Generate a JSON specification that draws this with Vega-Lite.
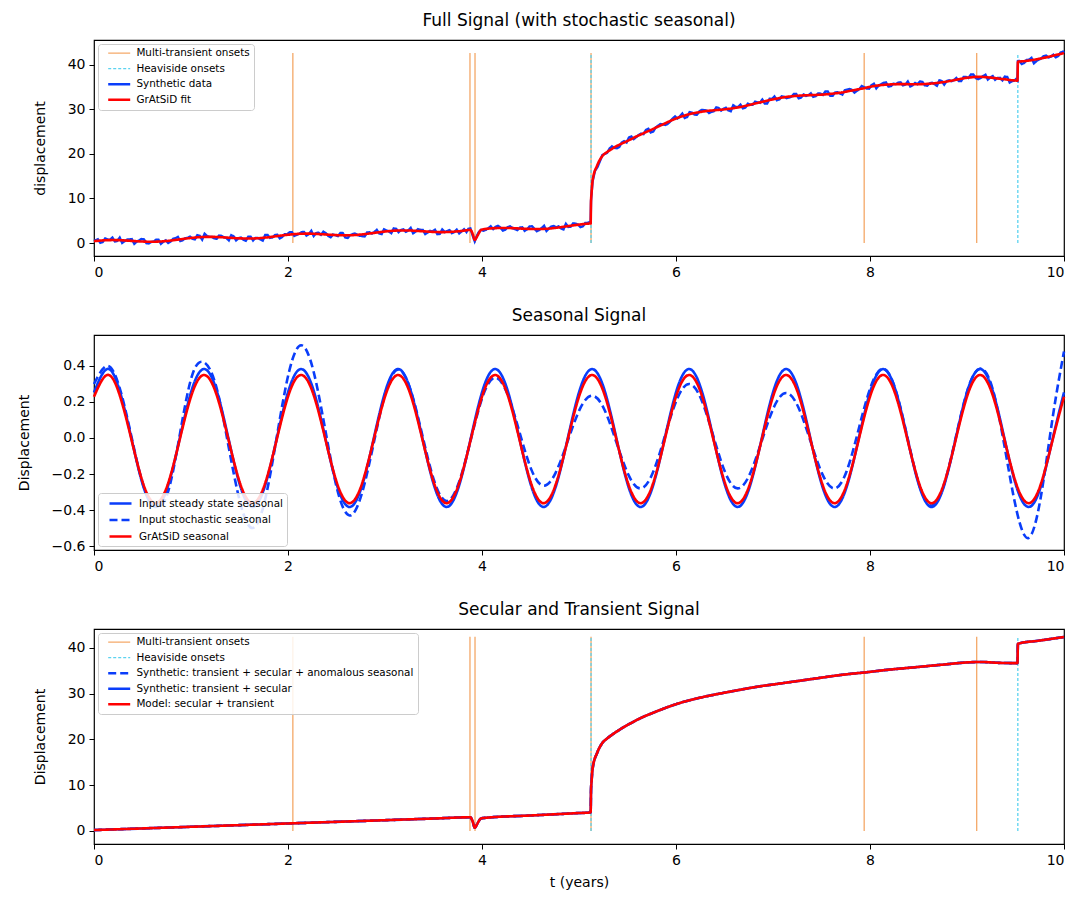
{
"$schema": "https://vega.github.io/schema/vega-lite/v6.json",
"padding": {"left": 16, "top": 11, "right": 10, "bottom": 8},
"spacing": 26,
"resolve": {"scale": {"color": "independent", "strokeDash": "independent"}},
"config": {
  "font": "DejaVu Sans",
  "view": {"stroke": "black", "strokeWidth": 1.2},
  "axis": {"grid": false, "domain": false, "tickColor": "black", "tickSize": 5, "tickWidth": 1, "labelFontSize": 14, "labelColor": "black", "labelFont": "DejaVu Sans", "titleFont": "DejaVu Sans", "titleFontSize": 14, "titleFontWeight": "normal", "titleColor": "black", "labelPadding": 4, "titlePadding": 20},
  "title": {"fontSize": 17, "fontWeight": "normal", "font": "DejaVu Sans", "color": "black", "offset": 10, "frame": "group"},
  "legend": {"title": null, "offset": 4, "padding": 4, "strokeColor": "#cccccc", "fillColor": "rgba(255,255,255,0.85)", "cornerRadius": 3, "labelFontSize": 10.4, "labelFont": "DejaVu Sans", "labelColor": "black", "labelLimit": 400, "symbolType": "M-2.2,0H2.2", "symbolSize": 100, "symbolOffset": 12, "labelOffset": 12, "rowPadding": 4.5}
},
"datasets": {
  "onsets": [
    {"kind": "Multi-transient onsets", "t": 2.05},
    {"kind": "Multi-transient onsets", "t": 3.876},
    {"kind": "Multi-transient onsets", "t": 3.928},
    {"kind": "Multi-transient onsets", "t": 5.124},
    {"kind": "Multi-transient onsets", "t": 7.94},
    {"kind": "Multi-transient onsets", "t": 9.1},
    {"kind": "Heaviside onsets", "t": 5.124},
    {"kind": "Heaviside onsets", "t": 9.524}
  ],
  "obs": [
    {"t":0,"y":0.45},{"t":0.04,"y":0.85},{"t":0.09,"y":0.24},{"t":0.14,"y":0.79},{"t":0.19,"y":1.21},{"t":0.24,"y":0.49},{"t":0.29,"y":0.04},{"t":0.34,"y":0.77},{"t":0.39,"y":0.88},{"t":0.44,"y":0.3},{"t":0.49,"y":0.92},{"t":0.54,"y":-0.03},{"t":0.59,"y":0.25},{"t":0.64,"y":0.77},{"t":0.69,"y":-0.17},{"t":0.74,"y":0.62},{"t":0.79,"y":0.34},{"t":0.84,"y":1.08},{"t":0.89,"y":0.44},{"t":0.94,"y":1.1},{"t":0.99,"y":1.44},
    {"t":1.04,"y":0.82},{"t":1.09,"y":1.62},{"t":1.14,"y":2.08},{"t":1.19,"y":1.39},{"t":1.24,"y":1.07},{"t":1.29,"y":1.7},{"t":1.34,"y":1.31},{"t":1.39,"y":0.6},{"t":1.44,"y":1.5},{"t":1.49,"y":1.1},{"t":1.54,"y":0.74},{"t":1.59,"y":1.41},{"t":1.64,"y":0.58},{"t":1.69,"y":1.14},{"t":1.74,"y":0.55},{"t":1.79,"y":1.8},{"t":1.84,"y":1.27},{"t":1.89,"y":1.86},{"t":1.94,"y":1.35},{"t":1.99,"y":1.93},
    {"t":2.04,"y":2.46},{"t":2.09,"y":1.86},{"t":2.14,"y":2.46},{"t":2.19,"y":1.67},{"t":2.24,"y":2.73},{"t":2.29,"y":2.25},{"t":2.34,"y":1.84},{"t":2.39,"y":2.22},{"t":2.44,"y":1.32},{"t":2.49,"y":1.74},{"t":2.54,"y":2.28},{"t":2.59,"y":1.26},{"t":2.64,"y":1.77},{"t":2.69,"y":2.13},{"t":2.74,"y":1.63},{"t":2.79,"y":1.46},{"t":2.84,"y":2.41},{"t":2.89,"y":2.48},{"t":2.94,"y":2.13},{"t":2.99,"y":3.08},
    {"t":3.04,"y":2.6},{"t":3.09,"y":3.29},{"t":3.14,"y":2.44},{"t":3.19,"y":3.06},{"t":3.24,"y":2.84},{"t":3.29,"y":2.19},{"t":3.34,"y":3.12},{"t":3.39,"y":2.94},{"t":3.44,"y":2.37},{"t":3.49,"y":2.61},{"t":3.54,"y":1.97},{"t":3.59,"y":3.05},{"t":3.64,"y":2.67},{"t":3.69,"y":2.22},{"t":3.74,"y":3.01},{"t":3.79,"y":2.62},{"t":3.84,"y":2.46},{"t":3.88,"y":3.3},{"t":3.905,"y":1.6},{"t":3.925,"y":0.4},{"t":3.945,"y":1.5},{"t":3.965,"y":2.4},{"t":3.99,"y":2.95},
    {"t":4.04,"y":2.96},{"t":4.09,"y":3.76},{"t":4.14,"y":3.63},{"t":4.19,"y":3.47},{"t":4.24,"y":2.97},{"t":4.29,"y":3.75},{"t":4.34,"y":3.11},{"t":4.39,"y":3.46},{"t":4.44,"y":2.74},{"t":4.49,"y":3.72},{"t":4.54,"y":3.21},{"t":4.59,"y":2.93},{"t":4.64,"y":3.87},{"t":4.69,"y":3.23},{"t":4.74,"y":3.82},{"t":4.79,"y":3.74},{"t":4.84,"y":3.06},{"t":4.89,"y":3.6},{"t":4.94,"y":4.43},{"t":4.99,"y":4.14},
    {"t":5.04,"y":3.75},{"t":5.09,"y":4.54},{"t":5.12,"y":4.6},{"t":5.124,"y":9.5},{"t":5.13,"y":11.2},{"t":5.14,"y":13.84},{"t":5.19,"y":17.02},{"t":5.24,"y":19.69},{"t":5.29,"y":20.24},{"t":5.34,"y":21.67},{"t":5.39,"y":21.25},{"t":5.44,"y":22.51},{"t":5.49,"y":22.54},{"t":5.54,"y":23.87},{"t":5.59,"y":23.73},{"t":5.64,"y":24.52},{"t":5.69,"y":25.33},{"t":5.74,"y":24.77},{"t":5.79,"y":25.89},{"t":5.84,"y":26.66},{"t":5.89,"y":26.45},{"t":5.94,"y":27.24},{"t":5.99,"y":28.38},
    {"t":6.04,"y":28.39},{"t":6.09,"y":28.04},{"t":6.14,"y":29.35},{"t":6.19,"y":28.79},{"t":6.24,"y":29.49},{"t":6.29,"y":29.78},{"t":6.34,"y":29.14},{"t":6.39,"y":29.55},{"t":6.44,"y":30.26},{"t":6.49,"y":30.09},{"t":6.54,"y":29.72},{"t":6.59,"y":30.88},{"t":6.64,"y":30.47},{"t":6.69,"y":30.18},{"t":6.74,"y":31.22},{"t":6.79,"y":30.99},{"t":6.84,"y":31.51},{"t":6.89,"y":32.15},{"t":6.94,"y":31.28},{"t":6.99,"y":32.3},
    {"t":7.04,"y":32.0},{"t":7.09,"y":32.89},{"t":7.14,"y":32.45},{"t":7.19,"y":32.79},{"t":7.24,"y":33.4},{"t":7.29,"y":32.6},{"t":7.34,"y":32.98},{"t":7.39,"y":33.55},{"t":7.44,"y":32.91},{"t":7.49,"y":33.49},{"t":7.54,"y":33.97},{"t":7.59,"y":32.98},{"t":7.64,"y":33.72},{"t":7.69,"y":33.53},{"t":7.74,"y":34.22},{"t":7.79,"y":34.54},{"t":7.84,"y":33.71},{"t":7.89,"y":34.5},{"t":7.94,"y":34.92},{"t":7.99,"y":34.58},
    {"t":8.04,"y":35.71},{"t":8.09,"y":35.27},{"t":8.14,"y":35.89},{"t":8.19,"y":35.07},{"t":8.24,"y":35.71},{"t":8.29,"y":35.93},{"t":8.34,"y":35.32},{"t":8.39,"y":36.2},{"t":8.44,"y":35.38},{"t":8.49,"y":35.58},{"t":8.54,"y":36.1},{"t":8.59,"y":35.24},{"t":8.64,"y":35.93},{"t":8.69,"y":35.24},{"t":8.74,"y":36.3},{"t":8.79,"y":36.28},{"t":8.84,"y":36.28},{"t":8.89,"y":37.0},{"t":8.94,"y":36.32},{"t":8.99,"y":37.23},
    {"t":9.04,"y":37.76},{"t":9.09,"y":36.97},{"t":9.14,"y":36.99},{"t":9.19,"y":37.72},{"t":9.24,"y":37.11},{"t":9.29,"y":36.58},{"t":9.34,"y":37.02},{"t":9.39,"y":37.3},{"t":9.44,"y":35.98},{"t":9.49,"y":36.42},{"t":9.52,"y":36.44},{"t":9.525,"y":40.78},{"t":9.54,"y":40.8},{"t":9.59,"y":40.37},{"t":9.64,"y":41.09},{"t":9.69,"y":40.27},{"t":9.74,"y":41.1},{"t":9.79,"y":41.87},{"t":9.84,"y":41.58},{"t":9.89,"y":42.2},{"t":9.94,"y":41.9},{"t":9.99,"y":42.88},{"t":10,"y":42.6},
    {"t":0.065,"y":0.06},{"t":0.115,"y":1.03},{"t":0.165,"y":0.76},{"t":0.215,"y":0.37},{"t":0.265,"y":1.24},{"t":0.315,"y":0.39},{"t":0.365,"y":0.82},{"t":0.415,"y":-0.16},{"t":0.465,"y":0.58},{"t":0.515,"y":0.83},{"t":0.565,"y":-0.1},{"t":0.615,"y":0.3},{"t":0.665,"y":0.74},{"t":0.715,"y":0.31},{"t":0.765,"y":0.01},{"t":0.815,"y":0.93},{"t":0.865,"y":1.37},{"t":0.915,"y":0.62},{"t":0.965,"y":1.16},{"t":1.015,"y":0.98},
    {"t":1.065,"y":1.78},{"t":1.115,"y":0.75},{"t":1.165,"y":1.58},{"t":1.215,"y":1.39},{"t":1.265,"y":0.96},{"t":1.315,"y":1.6},{"t":1.365,"y":1.14},{"t":1.415,"y":1.77},{"t":1.465,"y":0.6},{"t":1.515,"y":1.25},{"t":1.565,"y":0.52},{"t":1.615,"y":1.42},{"t":1.665,"y":1.16},{"t":1.715,"y":0.83},{"t":1.765,"y":1.83},{"t":1.815,"y":1.15},{"t":1.865,"y":1.79},{"t":1.915,"y":1.04},{"t":1.965,"y":1.98},{"t":2.015,"y":2.4},
    {"t":2.065,"y":1.6},{"t":2.115,"y":2.07},{"t":2.165,"y":2.5},{"t":2.215,"y":2.01},{"t":2.265,"y":1.58},{"t":2.315,"y":2.32},{"t":2.365,"y":2.56},{"t":2.415,"y":1.59},{"t":2.465,"y":1.92},{"t":2.515,"y":1.57},{"t":2.565,"y":2.24},{"t":2.615,"y":1.14},{"t":2.665,"y":1.98},{"t":2.715,"y":1.85},{"t":2.765,"y":1.55},{"t":2.815,"y":2.37},{"t":2.865,"y":2.11},{"t":2.915,"y":2.96},{"t":2.965,"y":2.0},{"t":3.015,"y":2.82},
    {"t":3.065,"y":2.22},{"t":3.115,"y":3.19},{"t":3.165,"y":2.92},{"t":3.215,"y":2.53},{"t":3.265,"y":3.4},{"t":3.315,"y":2.55},{"t":3.365,"y":2.98},{"t":3.415,"y":2.01},{"t":3.465,"y":2.74},{"t":3.515,"y":2.99},{"t":3.565,"y":2.06},{"t":3.615,"y":2.46},{"t":3.665,"y":2.9},{"t":3.715,"y":2.47},{"t":3.765,"y":2.17},{"t":3.815,"y":3.09},{"t":3.86,"y":3.2},
    {"t":4.015,"y":2.77},{"t":4.065,"y":3.33},{"t":4.115,"y":3.12},{"t":4.165,"y":3.87},{"t":4.215,"y":2.79},{"t":4.265,"y":3.58},{"t":4.315,"y":3.34},{"t":4.365,"y":2.89},{"t":4.415,"y":3.54},{"t":4.465,"y":3.09},{"t":4.515,"y":3.76},{"t":4.565,"y":2.65},{"t":4.615,"y":3.37},{"t":4.665,"y":2.72},{"t":4.715,"y":3.71},{"t":4.765,"y":3.53},{"t":4.815,"y":3.27},{"t":4.865,"y":4.32},{"t":4.915,"y":3.68},{"t":4.965,"y":4.34},{"t":5.015,"y":3.58},{"t":5.065,"y":4.5},{"t":5.105,"y":4.68},
    {"t":5.165,"y":16.2},{"t":5.215,"y":18.3},{"t":5.265,"y":19.95},{"t":5.315,"y":21.16},{"t":5.365,"y":21.33},{"t":5.415,"y":21.52},{"t":5.465,"y":22.84},{"t":5.515,"y":23.66},{"t":5.565,"y":23.3},{"t":5.615,"y":24.21},{"t":5.665,"y":24.41},{"t":5.715,"y":25.6},{"t":5.765,"y":24.98},{"t":5.815,"y":26.29},{"t":5.865,"y":26.6},{"t":5.915,"y":26.71},{"t":5.965,"y":27.89},{"t":6.015,"y":27.92},{"t":6.065,"y":29.01},{"t":6.115,"y":28.24},{"t":6.165,"y":29.22},
    {"t":6.215,"y":28.73},{"t":6.265,"y":29.82},{"t":6.315,"y":29.69},{"t":6.365,"y":29.41},{"t":6.415,"y":30.4},{"t":6.465,"y":29.69},{"t":6.515,"y":30.31},{"t":6.565,"y":29.55},{"t":6.615,"y":30.51},{"t":6.665,"y":31.01},{"t":6.715,"y":30.35},{"t":6.765,"y":31.01},{"t":6.815,"y":31.67},{"t":6.865,"y":31.42},{"t":6.915,"y":31.28},{"t":6.965,"y":32.34},{"t":7.015,"y":32.87},{"t":7.065,"y":32.18},{"t":7.115,"y":32.77},{"t":7.165,"y":32.62},
    {"t":7.215,"y":33.43},{"t":7.265,"y":32.42},{"t":7.315,"y":33.29},{"t":7.365,"y":33.13},{"t":7.415,"y":32.77},{"t":7.465,"y":33.52},{"t":7.515,"y":33.18},{"t":7.565,"y":33.97},{"t":7.615,"y":32.99},{"t":7.665,"y":33.81},{"t":7.715,"y":33.27},{"t":7.765,"y":34.38},{"t":7.815,"y":34.29},{"t":7.865,"y":34.1},{"t":7.915,"y":35.21},{"t":7.965,"y":34.64},{"t":8.015,"y":35.37},{"t":8.065,"y":34.66},{"t":8.115,"y":35.59},{"t":8.165,"y":35.99},
    {"t":8.215,"y":35.16},{"t":8.265,"y":35.6},{"t":8.315,"y":36.01},{"t":8.365,"y":35.51},{"t":8.415,"y":35.1},{"t":8.465,"y":35.89},{"t":8.515,"y":36.21},{"t":8.565,"y":35.35},{"t":8.615,"y":35.81},{"t":8.665,"y":35.61},{"t":8.715,"y":36.45},{"t":8.765,"y":35.51},{"t":8.815,"y":36.49},{"t":8.865,"y":36.5},{"t":8.915,"y":36.31},{"t":8.965,"y":37.21},{"t":9.015,"y":36.97},{"t":9.065,"y":37.78},{"t":9.115,"y":36.74},{"t":9.165,"y":37.42},
    {"t":9.215,"y":36.63},{"t":9.265,"y":37.42},{"t":9.315,"y":36.99},{"t":9.365,"y":36.46},{"t":9.415,"y":37.22},{"t":9.465,"y":36.29},{"t":9.505,"y":36.72},{"t":9.565,"y":40.12},{"t":9.615,"y":41.04},{"t":9.665,"y":41.49},{"t":9.715,"y":40.77},{"t":9.765,"y":41.38},{"t":9.815,"y":42.02},{"t":9.865,"y":41.77},{"t":9.915,"y":41.63},{"t":9.965,"y":42.69}
  ],
  "fit": [
    {"t":0,"f":0.42},{"t":0.04,"f":0.51},{"t":0.09,"f":0.6},{"t":0.14,"f":0.65},{"t":0.19,"f":0.67},{"t":0.24,"f":0.66},{"t":0.29,"f":0.62},{"t":0.34,"f":0.55},{"t":0.39,"f":0.48},{"t":0.44,"f":0.41},{"t":0.49,"f":0.35},{"t":0.54,"f":0.31},{"t":0.59,"f":0.29},{"t":0.64,"f":0.31},{"t":0.69,"f":0.36},{"t":0.74,"f":0.45},{"t":0.79,"f":0.56},{"t":0.84,"f":0.7},{"t":0.89,"f":0.84},{"t":0.94,"f":0.99},{"t":0.99,"f":1.12},
    {"t":1.04,"f":1.23},{"t":1.09,"f":1.32},{"t":1.14,"f":1.37},{"t":1.19,"f":1.39},{"t":1.24,"f":1.38},{"t":1.29,"f":1.33},{"t":1.34,"f":1.27},{"t":1.39,"f":1.2},{"t":1.44,"f":1.13},{"t":1.49,"f":1.07},{"t":1.54,"f":1.03},{"t":1.59,"f":1.01},{"t":1.64,"f":1.03},{"t":1.69,"f":1.08},{"t":1.74,"f":1.17},{"t":1.79,"f":1.28},{"t":1.84,"f":1.42},{"t":1.89,"f":1.56},{"t":1.94,"f":1.71},{"t":1.99,"f":1.84},
    {"t":2.04,"f":1.95},{"t":2.09,"f":2.04},{"t":2.14,"f":2.09},{"t":2.19,"f":2.11},{"t":2.24,"f":2.1},{"t":2.29,"f":2.05},{"t":2.34,"f":1.99},{"t":2.39,"f":1.92},{"t":2.44,"f":1.85},{"t":2.49,"f":1.79},{"t":2.54,"f":1.75},{"t":2.59,"f":1.73},{"t":2.64,"f":1.75},{"t":2.69,"f":1.8},{"t":2.74,"f":1.89},{"t":2.79,"f":2.0},{"t":2.84,"f":2.14},{"t":2.89,"f":2.28},{"t":2.94,"f":2.43},{"t":2.99,"f":2.56},
    {"t":3.04,"f":2.67},{"t":3.09,"f":2.76},{"t":3.14,"f":2.81},{"t":3.19,"f":2.83},{"t":3.24,"f":2.82},{"t":3.29,"f":2.78},{"t":3.34,"f":2.71},{"t":3.39,"f":2.64},{"t":3.44,"f":2.57},{"t":3.49,"f":2.51},{"t":3.54,"f":2.47},{"t":3.59,"f":2.45},{"t":3.64,"f":2.47},{"t":3.69,"f":2.52},{"t":3.74,"f":2.61},{"t":3.79,"f":2.72},{"t":3.84,"f":2.86},{"t":3.88,"f":2.97},{"t":3.905,"f":2.0},{"t":3.925,"f":0.7},{"t":3.945,"f":1.3},{"t":3.965,"f":2.1},{"t":3.99,"f":2.96},
    {"t":4.04,"f":3.17},{"t":4.09,"f":3.28},{"t":4.14,"f":3.35},{"t":4.19,"f":3.38},{"t":4.24,"f":3.39},{"t":4.29,"f":3.36},{"t":4.34,"f":3.32},{"t":4.39,"f":3.26},{"t":4.44,"f":3.21},{"t":4.49,"f":3.17},{"t":4.54,"f":3.14},{"t":4.59,"f":3.15},{"t":4.64,"f":3.18},{"t":4.69,"f":3.25},{"t":4.74,"f":3.36},{"t":4.79,"f":3.49},{"t":4.84,"f":3.64},{"t":4.89,"f":3.8},{"t":4.94,"f":3.96},{"t":4.99,"f":4.11},
    {"t":5.04,"f":4.24},{"t":5.09,"f":4.35},{"t":5.12,"f":4.4},{"t":5.124,"f":9.3},{"t":5.13,"f":11.35},{"t":5.14,"f":13.95},{"t":5.19,"f":17.53},{"t":5.24,"f":19.48},{"t":5.29,"f":20.41},{"t":5.34,"f":21.11},{"t":5.39,"f":21.75},{"t":5.44,"f":22.29},{"t":5.49,"f":22.79},{"t":5.54,"f":23.32},{"t":5.59,"f":23.87},{"t":5.64,"f":24.35},{"t":5.69,"f":24.87},{"t":5.74,"f":25.32},{"t":5.79,"f":25.84},{"t":5.84,"f":26.34},{"t":5.89,"f":26.85},{"t":5.94,"f":27.36},{"t":5.99,"f":27.81},
    {"t":6.04,"f":28.23},{"t":6.09,"f":28.58},{"t":6.14,"f":28.9},{"t":6.19,"f":29.13},{"t":6.24,"f":29.33},{"t":6.29,"f":29.51},{"t":6.34,"f":29.66},{"t":6.39,"f":29.75},{"t":6.44,"f":29.84},{"t":6.49,"f":29.94},{"t":6.54,"f":30.07},{"t":6.59,"f":30.22},{"t":6.64,"f":30.4},{"t":6.69,"f":30.62},{"t":6.74,"f":30.87},{"t":6.79,"f":31.14},{"t":6.84,"f":31.39},{"t":6.89,"f":31.65},{"t":6.94,"f":31.91},{"t":6.99,"f":32.16},
    {"t":7.04,"f":32.38},{"t":7.09,"f":32.58},{"t":7.14,"f":32.75},{"t":7.19,"f":32.88},{"t":7.24,"f":32.98},{"t":7.29,"f":33.06},{"t":7.34,"f":33.11},{"t":7.39,"f":33.15},{"t":7.44,"f":33.19},{"t":7.49,"f":33.24},{"t":7.54,"f":33.32},{"t":7.59,"f":33.42},{"t":7.64,"f":33.55},{"t":7.69,"f":33.67},{"t":7.74,"f":33.87},{"t":7.79,"f":34.09},{"t":7.84,"f":34.29},{"t":7.89,"f":34.5},{"t":7.94,"f":34.71},{"t":7.99,"f":34.96},
    {"t":8.04,"f":35.18},{"t":8.09,"f":35.33},{"t":8.14,"f":35.45},{"t":8.19,"f":35.53},{"t":8.24,"f":35.58},{"t":8.29,"f":35.61},{"t":8.34,"f":35.61},{"t":8.39,"f":35.6},{"t":8.44,"f":35.59},{"t":8.49,"f":35.59},{"t":8.54,"f":35.62},{"t":8.59,"f":35.67},{"t":8.64,"f":35.75},{"t":8.69,"f":35.87},{"t":8.74,"f":36.02},{"t":8.79,"f":36.19},{"t":8.84,"f":36.39},{"t":8.89,"f":36.6},{"t":8.94,"f":36.81},{"t":8.99,"f":37.01},
    {"t":9.04,"f":37.13},{"t":9.09,"f":37.23},{"t":9.14,"f":37.25},{"t":9.19,"f":37.18},{"t":9.24,"f":37.08},{"t":9.29,"f":36.96},{"t":9.34,"f":36.81},{"t":9.39,"f":36.7},{"t":9.44,"f":36.54},{"t":9.49,"f":36.44},{"t":9.52,"f":36.39},{"t":9.525,"f":40.64},{"t":9.54,"f":40.67},{"t":9.59,"f":40.77},{"t":9.64,"f":40.9},{"t":9.69,"f":41.07},{"t":9.74,"f":41.27},{"t":9.79,"f":41.49},{"t":9.84,"f":41.74},{"t":9.89,"f":42.0},{"t":9.94,"f":42.26},{"t":9.99,"f":42.51},{"t":10,"f":42.55}
  ],
  "seasonal": [
    {"t":0,"s":0.253,"g":0.229,"d":0.3},
    {"t":0.135,"s":0.383,"g":0.35,"d":0.4},{"t":0.26,"s":0.271,"g":0.246,"d":0.286},{"t":0.385,"s":0,"g":-0.006,"d":0.01},{"t":0.51,"s":-0.271,"g":-0.258,"d":-0.266},{"t":0.635,"s":-0.383,"g":-0.362,"d":-0.38},{"t":0.76,"s":-0.271,"g":-0.258,"d":-0.305},{"t":0.885,"s":0,"g":-0.006,"d":0.02},{"t":1.01,"s":0.271,"g":0.246,"d":0.345},
    {"t":1.135,"s":0.383,"g":0.35,"d":0.42},{"t":1.26,"s":0.271,"g":0.246,"d":0.285},{"t":1.385,"s":0,"g":-0.006,"d":-0.04},{"t":1.51,"s":-0.271,"g":-0.258,"d":-0.365},{"t":1.635,"s":-0.383,"g":-0.362,"d":-0.5},{"t":1.76,"s":-0.271,"g":-0.258,"d":-0.351},{"t":1.885,"s":0,"g":-0.006,"d":0.008},{"t":2.01,"s":0.271,"g":0.246,"d":0.366},
    {"t":2.135,"s":0.383,"g":0.35,"d":0.515},{"t":2.26,"s":0.271,"g":0.246,"d":0.377},{"t":2.385,"s":0,"g":-0.006,"d":0.043},{"t":2.51,"s":-0.271,"g":-0.258,"d":-0.291},{"t":2.635,"s":-0.383,"g":-0.362,"d":-0.43},{"t":2.76,"s":-0.271,"g":-0.258,"d":-0.311},{"t":2.885,"s":0,"g":-0.006,"d":-0.025},{"t":3.01,"s":0.271,"g":0.246,"d":0.261},
    {"t":3.135,"s":0.383,"g":0.35,"d":0.38},{"t":3.26,"s":0.271,"g":0.246,"d":0.273},{"t":3.385,"s":0,"g":-0.006,"d":0.015},{"t":3.51,"s":-0.271,"g":-0.258,"d":-0.243},{"t":3.635,"s":-0.383,"g":-0.362,"d":-0.35},{"t":3.76,"s":-0.271,"g":-0.258,"d":-0.25},{"t":3.885,"s":0,"g":-0.006,"d":-0.008},{"t":4.01,"s":0.271,"g":0.246,"d":0.235},
    {"t":4.135,"s":0.383,"g":0.35,"d":0.335},{"t":4.26,"s":0.271,"g":0.246,"d":0.247},{"t":4.385,"s":0,"g":-0.006,"d":0.035},{"t":4.51,"s":-0.271,"g":-0.258,"d":-0.177},{"t":4.635,"s":-0.383,"g":-0.362,"d":-0.265},{"t":4.76,"s":-0.271,"g":-0.258,"d":-0.192},{"t":4.885,"s":0,"g":-0.006,"d":-0.015},{"t":5.01,"s":0.271,"g":0.246,"d":0.162},
    {"t":5.135,"s":0.383,"g":0.35,"d":0.235},{"t":5.26,"s":0.271,"g":0.246,"d":0.16},{"t":5.385,"s":0,"g":-0.006,"d":-0.023},{"t":5.51,"s":-0.271,"g":-0.258,"d":-0.205},{"t":5.635,"s":-0.383,"g":-0.362,"d":-0.28},{"t":5.76,"s":-0.271,"g":-0.258,"d":-0.195},{"t":5.885,"s":0,"g":-0.006,"d":0.01},{"t":6.01,"s":0.271,"g":0.246,"d":0.215},
    {"t":6.135,"s":0.383,"g":0.35,"d":0.3},{"t":6.26,"s":0.271,"g":0.246,"d":0.215},{"t":6.385,"s":0,"g":-0.006,"d":0.01},{"t":6.51,"s":-0.271,"g":-0.258,"d":-0.195},{"t":6.635,"s":-0.383,"g":-0.362,"d":-0.28},{"t":6.76,"s":-0.271,"g":-0.258,"d":-0.202},{"t":6.885,"s":0,"g":-0.006,"d":-0.015},{"t":7.01,"s":0.271,"g":0.246,"d":0.172},
    {"t":7.135,"s":0.383,"g":0.35,"d":0.25},{"t":7.26,"s":0.271,"g":0.246,"d":0.172},{"t":7.385,"s":0,"g":-0.006,"d":-0.015},{"t":7.51,"s":-0.271,"g":-0.258,"d":-0.202},{"t":7.635,"s":-0.383,"g":-0.362,"d":-0.28},{"t":7.76,"s":-0.271,"g":-0.258,"d":-0.183},{"t":7.885,"s":0,"g":-0.006,"d":0.053},{"t":8.01,"s":0.271,"g":0.246,"d":0.288},
    {"t":8.135,"s":0.383,"g":0.35,"d":0.385},{"t":8.26,"s":0.271,"g":0.246,"d":0.274},{"t":8.385,"s":0,"g":-0.006,"d":0.005},{"t":8.51,"s":-0.271,"g":-0.258,"d":-0.264},{"t":8.635,"s":-0.383,"g":-0.362,"d":-0.375},{"t":8.76,"s":-0.271,"g":-0.258,"d":-0.264},{"t":8.885,"s":0,"g":-0.006,"d":0.005},{"t":9.01,"s":0.271,"g":0.246,"d":0.274},
    {"t":9.135,"s":0.383,"g":0.35,"d":0.385},{"t":9.26,"s":0.271,"g":0.246,"d":0.28},{"t":9.385,"s":0,"g":-0.006,"d":-0.04},{"t":9.51,"s":-0.271,"g":-0.258,"d":-0.4},{"t":9.635,"s":-0.383,"g":-0.362,"d":-0.555},{"t":9.76,"s":-0.271,"g":-0.258,"d":-0.33},{"t":9.885,"s":0,"g":-0.006,"d":0.12},
    {"t":10,"s":0.253,"g":0.229,"d":0.48}
  ],
  "clean": [
    {"t":0,"c":0.2},{"t":0.5,"c":0.56},{"t":1,"c":0.92},{"t":1.5,"c":1.28},{"t":2.05,"c":1.68},{"t":2.5,"c":2.0},{"t":3,"c":2.36},{"t":3.5,"c":2.72},{"t":3.88,"c":2.99},{"t":3.905,"c":2.0},{"t":3.925,"c":0.7},{"t":3.945,"c":1.3},{"t":3.965,"c":2.1},{"t":3.99,"c":2.75},{"t":4.05,"c":2.9},{"t":4.5,"c":3.38},{"t":5.0,"c":3.92},{"t":5.12,"c":4.05},{"t":5.124,"c":9.0},{"t":5.13,"c":11.0},{"t":5.14,"c":13.6},{"t":5.19,"c":17.2},{"t":5.24,"c":19.2},{"t":5.29,"c":20.2},{"t":5.34,"c":21.0},{"t":5.44,"c":22.4},{"t":5.54,"c":23.6},{"t":5.64,"c":24.7},{"t":5.74,"c":25.6},{"t":5.84,"c":26.45},{"t":5.94,"c":27.25},{"t":6.04,"c":27.95},{"t":6.14,"c":28.55},{"t":6.29,"c":29.3},{"t":6.44,"c":29.95},{"t":6.64,"c":30.75},{"t":6.84,"c":31.5},{"t":7.04,"c":32.1},{"t":7.24,"c":32.7},{"t":7.44,"c":33.3},{"t":7.64,"c":33.9},{"t":7.84,"c":34.4},{"t":7.94,"c":34.6},{"t":8.14,"c":35.1},{"t":8.44,"c":35.7},{"t":8.74,"c":36.3},{"t":9.04,"c":36.85},{"t":9.14,"c":36.9},{"t":9.34,"c":36.7},{"t":9.52,"c":36.65},{"t":9.525,"c":40.9},{"t":9.74,"c":41.55},{"t":10,"c":42.35}
  ]
},
"vconcat": [
  {
    "width": 970, "height": 216,
    "title": {"text": "Full Signal (with stochastic seasonal)"},
    "layer": [
      {"data": {"name": "onsets"}, "mark": {"type": "rule", "strokeWidth": 1.3},
       "encoding": {
         "x": {"field": "t", "type": "quantitative", "scale": {"domain": [0, 10], "nice": false}, "axis": {"values": [0, 2, 4, 6, 8, 10], "format": "d", "title": null}},
         "y": {"datum": 0, "type": "quantitative", "scale": {"domain": [-2.9, 45.5], "nice": false, "zero": false}, "axis": {"values": [0, 10, 20, 30, 40], "format": "d", "title": "displacement"}},
         "y2": {"datum": 42.6},
         "color": {"field": "kind", "type": "nominal", "scale": {"domain": ["Multi-transient onsets", "Heaviside onsets", "Synthetic data", "GrAtSiD fit"], "range": ["#f4a868", "#5bd3f0", "#0a3dfa", "#ff0000"]},
           "legend": {"orient": "top-left", "encode": {"symbols": {"update": {"strokeWidth": {"signal": "indexof(['Multi-transient onsets','Heaviside onsets'], datum.value) >= 0 ? 1.3 : 2.6"}}}}}},
         "strokeDash": {"field": "kind", "type": "nominal", "scale": {"domain": ["Multi-transient onsets", "Heaviside onsets", "Synthetic data", "GrAtSiD fit"], "range": [[1, 0], [3, 2], [1, 0], [1, 0]]}, "legend": {"orient": "top-left"}}
       }},
      {"data": {"name": "obs"}, "mark": {"type": "line", "strokeWidth": 2.4},
       "encoding": {
         "x": {"field": "t", "type": "quantitative"},
         "y": {"field": "y", "type": "quantitative"},
         "color": {"datum": "Synthetic data", "type": "nominal"},
         "strokeDash": {"datum": "Synthetic data", "type": "nominal"}
       }},
      {"data": {"name": "fit"}, "mark": {"type": "line", "strokeWidth": 2.6, "interpolate": "monotone"},
       "encoding": {
         "x": {"field": "t", "type": "quantitative"},
         "y": {"field": "f", "type": "quantitative"},
         "color": {"datum": "GrAtSiD fit", "type": "nominal"},
         "strokeDash": {"datum": "GrAtSiD fit", "type": "nominal"}
       }}
    ]
  },
  {
    "width": 970, "height": 215,
    "title": {"text": "Seasonal Signal"},
    "data": {"name": "seasonal"},
    "layer": [
      {"mark": {"type": "line", "strokeWidth": 2.6, "interpolate": "natural"},
       "encoding": {
         "x": {"field": "t", "type": "quantitative", "scale": {"domain": [0, 10], "nice": false}, "axis": {"values": [0, 2, 4, 6, 8, 10], "format": "d", "title": null}},
         "y": {"field": "s", "type": "quantitative", "scale": {"domain": [-0.622, 0.572], "nice": false, "zero": false}, "axis": {"values": [-0.6, -0.4, -0.2, 0, 0.2, 0.4], "format": ".1f", "title": "Displacement"}},
         "color": {"datum": "Input steady state seasonal", "type": "nominal", "scale": {"domain": ["Input steady state seasonal", "Input stochastic seasonal", "GrAtSiD seasonal"], "range": ["#0a3dfa", "#0a3dfa", "#ff0000"]}, "legend": {"orient": "bottom-left", "encode": {"symbols": {"update": {"strokeWidth": {"value": 2.6}}}}}},
         "strokeDash": {"datum": "Input steady state seasonal", "type": "nominal", "scale": {"domain": ["Input steady state seasonal", "Input stochastic seasonal", "GrAtSiD seasonal"], "range": [[1, 0], [8, 4], [1, 0]]}, "legend": {"orient": "bottom-left"}}
       }},
      {"mark": {"type": "line", "strokeWidth": 2.6, "interpolate": "natural"},
       "encoding": {
         "x": {"field": "t", "type": "quantitative"},
         "y": {"field": "d", "type": "quantitative"},
         "color": {"datum": "Input stochastic seasonal", "type": "nominal"},
         "strokeDash": {"datum": "Input stochastic seasonal", "type": "nominal"}
       }},
      {"mark": {"type": "line", "strokeWidth": 2.6, "interpolate": "natural"},
       "encoding": {
         "x": {"field": "t", "type": "quantitative"},
         "y": {"field": "g", "type": "quantitative"},
         "color": {"datum": "GrAtSiD seasonal", "type": "nominal"},
         "strokeDash": {"datum": "GrAtSiD seasonal", "type": "nominal"}
       }}
    ]
  },
  {
    "width": 970, "height": 215,
    "title": {"text": "Secular and Transient Signal"},
    "layer": [
      {"data": {"name": "onsets"}, "mark": {"type": "rule", "strokeWidth": 1.3},
       "encoding": {
         "x": {"field": "t", "type": "quantitative", "scale": {"domain": [0, 10], "nice": false}, "axis": {"values": [0, 2, 4, 6, 8, 10], "format": "d", "title": "t (years)", "titlePadding": 8}},
         "y": {"datum": 0, "type": "quantitative", "scale": {"domain": [-2.84, 44.1], "nice": false, "zero": false}, "axis": {"values": [0, 10, 20, 30, 40], "format": "d", "title": "Displacement"}},
         "y2": {"datum": 42.4},
         "color": {"field": "kind", "type": "nominal", "scale": {"domain": ["Multi-transient onsets", "Heaviside onsets", "Synthetic: transient + secular + anomalous seasonal", "Synthetic: transient + secular", "Model: secular + transient"], "range": ["#f4a868", "#5bd3f0", "#0a3dfa", "#0a3dfa", "#ff0000"]},
           "legend": {"orient": "top-left", "encode": {"symbols": {"update": {"strokeWidth": {"signal": "indexof(['Multi-transient onsets','Heaviside onsets'], datum.value) >= 0 ? 1.3 : 2.6"}}}}}},
         "strokeDash": {"field": "kind", "type": "nominal", "scale": {"domain": ["Multi-transient onsets", "Heaviside onsets", "Synthetic: transient + secular + anomalous seasonal", "Synthetic: transient + secular", "Model: secular + transient"], "range": [[1, 0], [3, 2], [8, 4], [1, 0], [1, 0]]}, "legend": {"orient": "top-left"}}
       }},
      {"data": {"name": "clean"}, "mark": {"type": "line", "strokeWidth": 2.6, "interpolate": "monotone"},
       "encoding": {
         "x": {"field": "t", "type": "quantitative"},
         "y": {"field": "c", "type": "quantitative"},
         "color": {"datum": "Synthetic: transient + secular + anomalous seasonal", "type": "nominal"},
         "strokeDash": {"datum": "Synthetic: transient + secular + anomalous seasonal", "type": "nominal"}
       }},
      {"data": {"name": "clean"}, "mark": {"type": "line", "strokeWidth": 2.6, "interpolate": "monotone"},
       "encoding": {
         "x": {"field": "t", "type": "quantitative"},
         "y": {"field": "c", "type": "quantitative"},
         "color": {"datum": "Synthetic: transient + secular", "type": "nominal"},
         "strokeDash": {"datum": "Synthetic: transient + secular", "type": "nominal"}
       }},
      {"data": {"name": "clean"}, "mark": {"type": "line", "strokeWidth": 2.6, "interpolate": "monotone"},
       "encoding": {
         "x": {"field": "t", "type": "quantitative"},
         "y": {"field": "c", "type": "quantitative"},
         "color": {"datum": "Model: secular + transient", "type": "nominal"},
         "strokeDash": {"datum": "Model: secular + transient", "type": "nominal"}
       }}
    ]
  }
]
}
